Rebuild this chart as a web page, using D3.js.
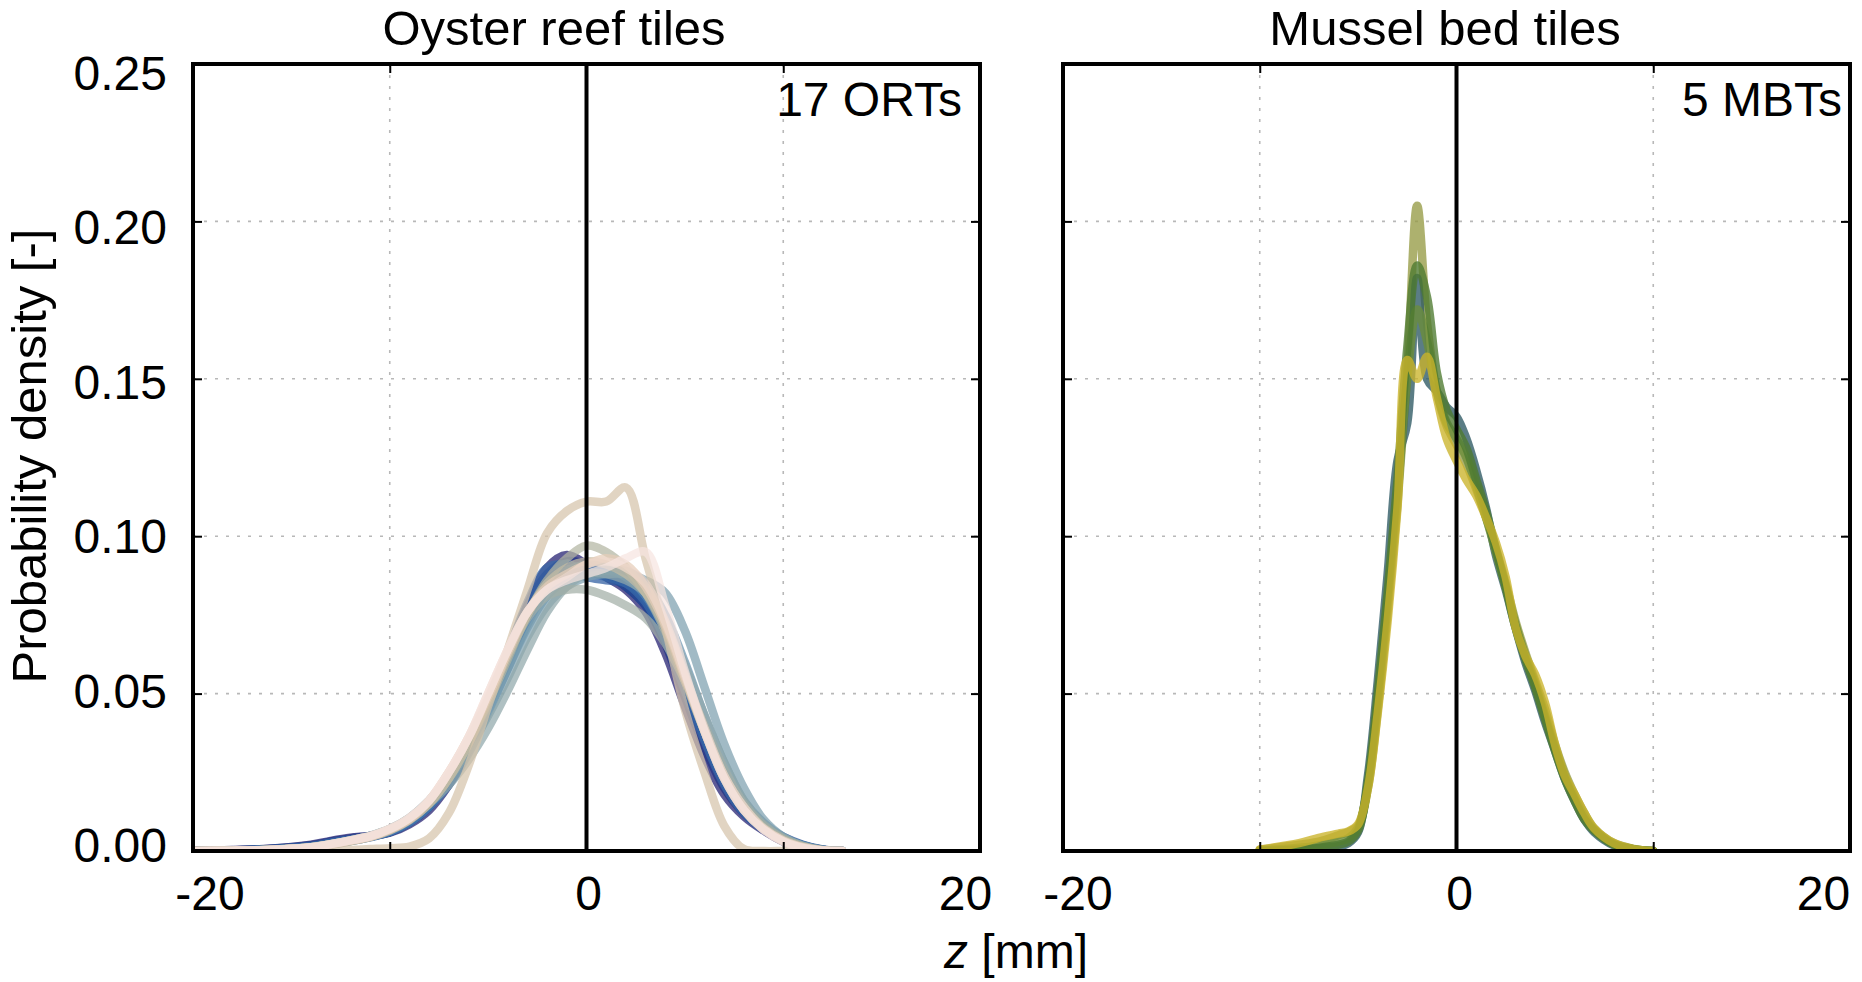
<!DOCTYPE html>
<html>
<head>
<meta charset="utf-8">
<script src="https://cdn.jsdelivr.net/npm/d3@7"></script>
<style>
  body { margin: 0; background: #fff; }
  svg { display: block; font-family: "Liberation Sans", Arial, sans-serif; }
</style>
</head>
<body>
<svg id="chart" width="1862" height="982"></svg>
<script>
// ---- data (z in mm, probability density) ----

// oyster reef tiles: common z grid
const zOrt = [-20,-18,-16,-14,-13,-12,-11,-10,-9,-8,-7,-6,-5,-4,-3,-2,-1,0,1,2,3,4,5,6,7,8,9,10,11,12,13];

const ort01 = [0,0.0003,0.0008,0.002,0.0032,0.0042,0.0048,0.0058,0.0085,0.013,0.021,0.032,0.046,0.061,0.078,0.090,0.094,0.091,0.087,0.083,0.076,0.063,0.046,0.030,0.018,0.011,0.0065,0.003,0.0012,0.0002,0];
const ort02 = [0,0.0002,0.0007,0.0018,0.003,0.004,0.0048,0.006,0.009,0.014,0.022,0.033,0.047,0.062,0.078,0.088,0.092,0.091,0.088,0.084,0.078,0.066,0.049,0.033,0.020,0.012,0.007,0.0035,0.0015,0.0003,0];
const ort03 = [0,0.0002,0.0006,0.0015,0.0025,0.0035,0.0045,0.006,0.009,0.014,0.022,0.033,0.046,0.060,0.074,0.085,0.089,0.090,0.088,0.084,0.078,0.068,0.053,0.037,0.024,0.014,0.008,0.0045,0.002,0.0005,0];
const ort04 = [0,0.0001,0.0005,0.0014,0.0024,0.0034,0.0045,0.0062,0.0095,0.015,0.023,0.034,0.047,0.061,0.075,0.086,0.089,0.087,0.086,0.085,0.080,0.069,0.053,0.036,0.022,0.013,0.0075,0.004,0.0018,0.0004,0];
const ort05 = [0,0.0002,0.0006,0.0016,0.0027,0.0037,0.0047,0.0062,0.0092,0.014,0.022,0.034,0.048,0.063,0.079,0.090,0.091,0.089,0.087,0.085,0.079,0.067,0.051,0.035,0.021,0.012,0.0068,0.0035,0.0014,0.0003,0];
const ort06 = [0,0.0001,0.0005,0.0013,0.0022,0.0032,0.0043,0.006,0.009,0.014,0.021,0.031,0.044,0.058,0.072,0.083,0.087,0.088,0.089,0.087,0.082,0.071,0.055,0.038,0.024,0.014,0.008,0.0042,0.0018,0.0004,0];
const ort07 = [0,0.0001,0.0005,0.0013,0.0022,0.0033,0.0045,0.0064,0.0097,0.015,0.023,0.034,0.047,0.061,0.075,0.085,0.089,0.091,0.090,0.087,0.081,0.070,0.054,0.038,0.024,0.014,0.0078,0.004,0.0017,0.0003,0];
const ort08 = [0,0.0001,0.0004,0.0012,0.0021,0.0032,0.0045,0.0066,0.010,0.015,0.023,0.033,0.045,0.058,0.071,0.081,0.086,0.088,0.089,0.089,0.085,0.075,0.060,0.043,0.028,0.016,0.009,0.0045,0.0018,0.0003,0];
const ort09 = [0,0.0001,0.0004,0.0012,0.0022,0.0034,0.0048,0.007,0.0105,0.016,0.023,0.032,0.043,0.055,0.068,0.078,0.084,0.087,0.088,0.088,0.086,0.082,0.070,0.052,0.034,0.020,0.010,0.0045,0.0015,0.0002,0];
const ort10 = [0,0.0001,0.0004,0.0011,0.002,0.0031,0.0045,0.0068,0.0102,0.015,0.021,0.029,0.039,0.051,0.064,0.076,0.084,0.088,0.088,0.086,0.082,0.073,0.059,0.043,0.028,0.016,0.0085,0.0042,0.0016,0.0003,0];
const ort11 = [0,0.0001,0.0004,0.0012,0.0022,0.0034,0.0048,0.007,0.0105,0.016,0.024,0.035,0.048,0.062,0.074,0.081,0.083,0.083,0.081,0.078,0.074,0.066,0.054,0.040,0.026,0.015,0.0082,0.004,0.0016,0.0003,0];
const ort12 = [0,0.0001,0.0004,0.0012,0.0022,0.0033,0.0046,0.0067,0.010,0.015,0.023,0.034,0.047,0.061,0.075,0.086,0.093,0.097,0.095,0.090,0.082,0.070,0.054,0.038,0.024,0.014,0.0075,0.0036,0.0014,0.0002,0];
const ort13 = [0,0.0001,0.0004,0.0011,0.002,0.0031,0.0044,0.0065,0.0098,0.015,0.023,0.034,0.048,0.062,0.075,0.085,0.090,0.092,0.091,0.088,0.082,0.071,0.055,0.038,0.023,0.013,0.007,0.0033,0.0012,0.0002,0];
const ort14 = [0,0,0,0,0.0001,0.0003,0.0006,0.0009,0.0014,0.004,0.012,0.027,0.046,0.064,0.083,0.101,0.108,0.111,0.111,0.1155,0.093,0.071,0.045,0.025,0.008,0.0006,0,0,0,0,0];
const ort15 = [0,0.0001,0.0004,0.0012,0.0021,0.0032,0.0045,0.0067,0.010,0.016,0.025,0.036,0.049,0.063,0.076,0.084,0.088,0.091,0.093,0.091,0.084,0.072,0.055,0.038,0.023,0.013,0.0068,0.003,0.001,0.0002,0];
const ort16 = [0,0.0001,0.0004,0.0012,0.0022,0.0034,0.0047,0.007,0.0105,0.016,0.025,0.036,0.050,0.064,0.076,0.083,0.087,0.091,0.092,0.090,0.085,0.073,0.056,0.039,0.024,0.014,0.0072,0.0033,0.0012,0.0002,0];
const ort17 = [0,0.0001,0.0004,0.0012,0.0022,0.0034,0.0047,0.007,0.0105,0.016,0.025,0.036,0.050,0.064,0.076,0.083,0.086,0.088,0.090,0.093,0.095,0.078,0.057,0.038,0.023,0.013,0.0068,0.003,0.001,0.0002,0];

// mussel bed tiles: common z grid
const zMbt = [-10,-8,-7,-6,-5.5,-5,-4.5,-4,-3.5,-3,-2.5,-2,-1.5,-1,-0.5,0,0.5,1,1.5,2,2.5,3,3.5,4,4.5,5,5.5,6,6.5,7,8,9,10];

const mbtKhaki  = [0.0004,0.002,0.003,0.005,0.006,0.008,0.020,0.045,0.076,0.110,0.152,0.205,0.168,0.146,0.135,0.129,0.123,0.115,0.106,0.096,0.085,0.073,0.063,0.054,0.045,0.034,0.025,0.018,0.012,0.0072,0.0025,0.0007,0];
const mbtSlate  = [0,0.0003,0.0008,0.0015,0.0025,0.006,0.024,0.054,0.088,0.124,0.136,0.182,0.150,0.146,0.141,0.138,0.131,0.121,0.109,0.094,0.083,0.071,0.060,0.051,0.041,0.032,0.023,0.016,0.010,0.006,0.0018,0.0004,0];
const mbtOlive  = [0.0002,0.001,0.0018,0.003,0.004,0.0075,0.021,0.047,0.079,0.113,0.150,0.172,0.162,0.146,0.136,0.131,0.125,0.116,0.106,0.095,0.084,0.072,0.062,0.053,0.043,0.033,0.024,0.017,0.011,0.0068,0.0022,0.0006,0];
const mbtGreen  = [0,0.0005,0.001,0.002,0.003,0.0065,0.022,0.050,0.082,0.118,0.160,0.186,0.176,0.152,0.140,0.134,0.128,0.118,0.108,0.096,0.084,0.071,0.061,0.052,0.042,0.032,0.023,0.016,0.010,0.0065,0.002,0.0005,0];
const mbtYellow = [0.0005,0.0025,0.0042,0.0055,0.0062,0.0085,0.020,0.044,0.073,0.109,0.156,0.150,0.157,0.144,0.131,0.124,0.118,0.113,0.106,0.098,0.087,0.071,0.062,0.056,0.047,0.034,0.024,0.018,0.012,0.0072,0.0025,0.0006,0];

const ortSeries = [ort01,ort02,ort03,ort04,ort05,ort06,ort07,ort08,ort09,ort10,ort11,ort12,ort13,ort14,ort15,ort16,ort17];
const mbtSeries = [mbtKhaki, mbtSlate, mbtOlive, mbtGreen, mbtYellow];

const yTicks = [0, 0.05, 0.10, 0.15, 0.20, 0.25];
const xTicks = [-20, -10, 0, 10, 20];
const xLabels = [-20, 0, 20];

// palettes (dark blue -> pale pink, and teal -> yellow)
const ortColors = ["#1f1b6e","#1f3283","#234a95","#2b5aa0","#3768a8","#4578ad","#5686b0","#6893b0",
                   "#7d9faf","#90a8ab","#a2afa6","#b3b5a2","#c4bba3","#d6c4aa","#e6cdb8","#efd8cc","#f6e4e0"];
const mbtColors = ["#969b45","#2d5863","#6a8d3a","#4d7a30","#cbb32a"];

// ---- layout ----
const svg = d3.select("#chart");
const plotTop = 64, plotBottom = 851;

const y = d3.scaleLinear().domain([0, 0.25]).range([plotBottom, plotTop]);
// tick labels sit on a slightly tighter spread than the ticks themselves
const yLab = d3.scaleLinear().domain([0, 0.25]).range([845, 72.5]);

svg.append("rect").attr("width", 1862).attr("height", 982).attr("fill", "#fff");

function drawPanel(p) {
  const x = d3.scaleLinear().domain([-20, 20]).range([p.left, p.right]);
  const xLab = d3.scaleLinear().domain([-20, 0, 20]).range(p.labelRange);
  const g = svg.append("g");

  // dotted grid
  g.selectAll("line.gx").data([-10, 10]).join("line")
    .attr("class", "gx")
    .attr("x1", d => x(d)).attr("x2", d => x(d))
    .attr("y1", plotTop).attr("y2", plotBottom)
    .attr("stroke", "#b8b8b8").attr("stroke-width", 1.6).attr("stroke-dasharray", "3,8");
  g.selectAll("line.gy").data([0.05, 0.10, 0.15, 0.20]).join("line")
    .attr("class", "gy")
    .attr("x1", p.left).attr("x2", p.right)
    .attr("y1", d => y(d)).attr("y2", d => y(d))
    .attr("stroke", "#b8b8b8").attr("stroke-width", 1.6).attr("stroke-dasharray", "3,8");

  // curves, clipped to the plot box
  svg.append("clipPath").attr("id", p.id + "-clip")
    .append("rect")
    .attr("x", p.left).attr("y", plotTop)
    .attr("width", p.right - p.left).attr("height", plotBottom - plotTop);

  const line = d3.line()
    .x((d, i) => x(p.z[i]))
    .y(d => y(d))
    .curve(d3.curveCatmullRom.alpha(0.5));

  g.append("g").attr("clip-path", "url(#" + p.id + "-clip)")
    .selectAll("path").data(p.series).join("path")
    .attr("d", line)
    .attr("fill", "none")
    .attr("stroke", (d, i) => p.colors[i])
    .attr("stroke-opacity", p.opacity)
    .attr("stroke-width", 8.5)
    .attr("stroke-linecap", "round")
    .attr("stroke-linejoin", "round");

  // z = 0 reference line
  g.append("line")
    .attr("x1", x(0)).attr("x2", x(0))
    .attr("y1", plotTop).attr("y2", plotBottom)
    .attr("stroke", "#000").attr("stroke-width", 4);

  // axes (inward ticks on all four sides)
  const styleAxis = a => {
    a.select(".domain").remove();
    a.selectAll(".tick line").attr("stroke", "#000").attr("stroke-width", 2);
  };

  g.append("g")
    .attr("transform", "translate(0," + plotBottom + ")")
    .call(d3.axisBottom(x).tickValues(xTicks).tickSize(-9)
      .tickFormat(d => xLabels.includes(d) ? d3.format("d")(d).replace("−", "-") : ""))
    .call(styleAxis)
    .call(a => a.selectAll(".tick text")
      .attr("x", d => xLab(d) - x(d))
      .attr("y", 59).attr("dy", null)
      .attr("fill", "#000").attr("font-size", 48)
      .attr("font-family", "Liberation Sans, Arial, sans-serif"));

  g.append("g")
    .attr("transform", "translate(0," + plotTop + ")")
    .call(d3.axisTop(x).tickValues(xTicks).tickSize(-9).tickFormat(""))
    .call(styleAxis);

  const left = g.append("g")
    .attr("transform", "translate(" + p.left + ",0)")
    .call(d3.axisLeft(y).tickValues(yTicks).tickSize(-9)
      .tickFormat(p.yLabels ? d3.format(".2f") : ""))
    .call(styleAxis);
  if (p.yLabels) {
    left.selectAll(".tick text")
      .attr("x", -26)
      .attr("y", d => yLab(d) - y(d))
      .attr("dy", "0.35em")
      .attr("fill", "#000").attr("font-size", 48)
      .attr("font-family", "Liberation Sans, Arial, sans-serif");
  }

  g.append("g")
    .attr("transform", "translate(" + p.right + ",0)")
    .call(d3.axisRight(y).tickValues(yTicks).tickSize(-9).tickFormat(""))
    .call(styleAxis);

  // frame
  g.append("rect")
    .attr("x", p.left).attr("y", plotTop)
    .attr("width", p.right - p.left).attr("height", plotBottom - plotTop)
    .attr("fill", "none").attr("stroke", "#000").attr("stroke-width", 4);

  // title and tile count
  g.append("text")
    .attr("x", p.titleX).attr("y", 45)
    .attr("text-anchor", "middle").attr("font-size", 49)
    .text(p.title);
  g.append("text")
    .attr("x", p.countX).attr("y", 116)
    .attr("text-anchor", "end").attr("font-size", 48)
    .text(p.count);
}

drawPanel({
  id: "ort", left: 193, right: 980, labelRange: [209.5, 588, 965],
  z: zOrt, series: ortSeries, colors: ortColors, opacity: 0.72,
  yLabels: true, title: "Oyster reef tiles", titleX: 554,
  count: "17 ORTs", countX: 962
});

drawPanel({
  id: "mbt", left: 1063, right: 1850, labelRange: [1077.5, 1459, 1823],
  z: zMbt, series: mbtSeries, colors: mbtColors, opacity: 0.78,
  yLabels: false, title: "Mussel bed tiles", titleX: 1445,
  count: "5 MBTs", countX: 1842
});

// shared axis titles
svg.append("text")
  .attr("transform", "translate(46,456) rotate(-90)")
  .attr("text-anchor", "middle").attr("font-size", 49)
  .text("Probability density [-]");

const xt = svg.append("text")
  .attr("x", 1016).attr("y", 968)
  .attr("text-anchor", "middle").attr("font-size", 48);
xt.append("tspan").attr("font-style", "italic").text("z");
xt.append("tspan").text(" [mm]");
</script>
</body>
</html>
